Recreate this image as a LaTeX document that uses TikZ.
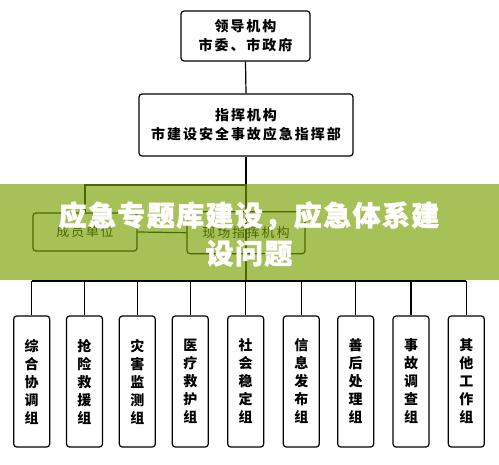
\documentclass[tikz,border=0pt]{standalone}
\usepackage{fontspec}
\newfontfamily\cjk{Noto Sans CJK SC}
\newfontfamily\cjksp[LetterSpace=14]{Noto Sans CJK SC}
\newfontfamily\cjkban[LetterSpace=5,BoldFeatures={FakeBold=1.5}]{Noto Sans CJK SC}
\definecolor{bannergreen}{RGB}{120,160,0}
\begin{document}
\begin{tikzpicture}[x=1pt,y=-1pt,
  box/.style={draw, line width=1.2pt, rounded corners=3pt, inner sep=0pt, align=center},
  topfont/.style={font={\cjksp\bfseries\fontsize{14}{19}\selectfont}},
  subfont/.style={font={\cjksp\fontsize{13}{16}\selectfont}},
  vbox/.style={box, minimum width=36pt, minimum height=131pt, font={\cjk\bfseries\fontsize{14}{18}\selectfont}},
  conn/.style={line width=1.2pt}]
\useasboundingbox (0,0) rectangle (499,465);
\fill[white] (0,0) rectangle (499,465);
% top boxes
\node[box, topfont, minimum width=129pt, minimum height=50pt] (lead) at (245.5,36) {领导机构\\市委、市政府};
\node[box, topfont, minimum width=214pt, minimum height=62pt] (cmd) at (246,125) {指挥机构\\市建设安全事故应急指挥部};
\node[box, subfont, minimum width=104pt, minimum height=38pt] (member) at (85,232) {成员单位};
\node[box, subfont, minimum width=118pt, minimum height=42pt] (site) at (246,232.7) {现场指挥机构};
% bottom boxes
\node[vbox] (b1) at (31.7,381.5) {综\\合\\协\\调\\组};
\node[vbox] (b2) at (84.5,381.5) {抢\\险\\救\\援\\组};
\node[vbox] (b3) at (137.3,381.5) {灾\\害\\监\\测\\组};
\node[vbox] (b4) at (190.3,381.5) {医\\疗\\救\\护\\组};
\node[vbox] (b5) at (245.7,381.5) {社\\会\\稳\\定\\组};
\node[vbox] (b6) at (301.3,381.5) {信\\息\\发\\布\\组};
\node[vbox] (b7) at (355.7,381.5) {善\\后\\处\\理\\组};
\node[vbox] (b8) at (411,381.5) {事\\故\\调\\查\\组};
\node[vbox] (b9) at (466.3,381.5) {其\\他\\工\\作\\组};
% connectors
\coordinate (bus) at (246,281);
\coordinate (branch) at (246,185);
\draw[conn] (lead.south) -- (cmd.north);
\draw[conn] (cmd.south) -- (cmd.south |- bus);
\draw[conn] (branch) -| (member.north);
\draw[conn] (member.east) -- (site.west);
\draw[conn] (b1.north |- bus) -- (b9.north |- bus);
\foreach \i in {1,...,9} {\draw[conn] (b\i.north) -- (b\i.north |- bus);}
% banner
\fill[bannergreen, opacity=0.65] (0,184) rectangle (499,280);
\node[font={\cjkban\bfseries\fontsize{28}{38}\selectfont}, text=white, align=center, inner sep=0pt] (banner) at (249,234) {应急专题库建设，应急体系建\\设问题};
\end{tikzpicture}
\end{document}
